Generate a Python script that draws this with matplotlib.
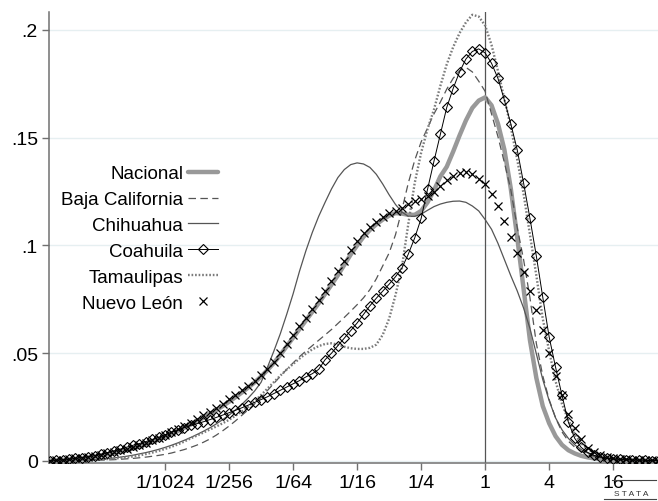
import numpy as np
import matplotlib
matplotlib.use("Agg")
import matplotlib.pyplot as plt
from matplotlib.lines import Line2D

plt.rcParams['font.family'] = ['Liberation Sans', 'DejaVu Sans']

# evaluation grid (log2 of the ratio), one point per marker
log2_x = np.linspace(-13.6, 5.4, 96)

nacional = [
    .0002, .0003, .0005, .0007, .0010, .0013, .0017, .0021, .0026, .0031,
    .0037, .0043, .0050, .0058, .0067, .0077, .0088, .0100, .0112, .0125,
    .0139, .0154, .0169, .0185, .0201, .0218, .0236, .0255, .0275, .0296,
    .0318, .0341, .0365, .0392, .0422, .0455, .0492, .0532, .0572, .0612,
    .0652, .0692, .0732, .0775, .0818, .0862, .0910, .0958, .1000, .1040,
    .1072, .1098, .1120, .1138, .1150, .1148, .1142, .1142, .1160, .1200,
    .1255, .1320, .1365, .1435, .1510, .1580, .1638, .1672, .1687, .1650,
    .1565, .1445, .1265, .1040, .0800, .0560, .0385, .0255, .0175, .0115,
    .0075, .0050, .0035, .0024, .0017, .0012, .0009, .0007, .0005, .0004,
    .0003, .0003, .0002, .0002, .0001, .0001]

baja_california = [
    .0000, .0000, .0001, .0001, .0001, .0002, .0002, .0003, .0004, .0005,
    .0006, .0008, .0010, .0012, .0015, .0018, .0022, .0026, .0031, .0037,
    .0045, .0053, .0063, .0074, .0087, .0102, .0120, .0140, .0162, .0186,
    .0212, .0238, .0265, .0295, .0327, .0360, .0393, .0425, .0455, .0484,
    .0510, .0535, .0560, .0585, .0610, .0638, .0666, .0695, .0725, .0757,
    .0795, .0845, .0905, .0965, .1050, .1165, .1290, .1395, .1480, .1545,
    .1610, .1665, .1725, .1775, .1810, .1826, .1805, .1762, .1715, .1610,
    .1505, .1385, .1260, .1085, .0935, .0757, .0545, .0395, .0285, .0200,
    .0135, .0092, .0064, .0045, .0031, .0022, .0016, .0011, .0008, .0006,
    .0004, .0003, .0002, .0002, .0001, .0001]

chihuahua = [
    .0000, .0001, .0001, .0002, .0003, .0004, .0005, .0007, .0009, .0011,
    .0014, .0018, .0022, .0027, .0033, .0039, .0046, .0054, .0063, .0073,
    .0084, .0096, .0109, .0123, .0138, .0154, .0172, .0192, .0213, .0237,
    .0263, .0292, .0325, .0365, .0435, .0510, .0590, .0680, .0775, .0880,
    .0975, .1060, .1135, .1200, .1262, .1315, .1352, .1375, .1383, .1378,
    .1362, .1330, .1285, .1235, .1190, .1155, .1135, .1135, .1145, .1163,
    .1180, .1192, .1200, .1205, .1206, .1200, .1183, .1160, .1120, .1075,
    .1010, .0935, .0860, .0790, .0710, .0615, .0497, .0378, .0280, .0200,
    .0145, .0105, .0075, .0053, .0037, .0026, .0018, .0013, .0009, .0007,
    .0005, .0004, .0003, .0002, .0001, .0001]

coahuila = [
    .0002, .0004, .0006, .0009, .0012, .0016, .0020, .0025, .0031, .0039,
    .0047, .0055, .0064, .0073, .0081, .0090, .0100, .0110, .0122, .0133,
    .0145, .0155, .0165, .0173, .0182, .0192, .0202, .0213, .0224, .0235,
    .0247, .0259, .0272, .0285, .0298, .0313, .0328, .0343, .0358, .0373,
    .0390, .0405, .0425, .0470, .0500, .0535, .0570, .0605, .0640, .0680,
    .0720, .0755, .0788, .0820, .0855, .0895, .0960, .1035, .1125, .1260,
    .1390, .1515, .1640, .1728, .1805, .1865, .1900, .1912, .1893, .1845,
    .1775, .1675, .1565, .1445, .1290, .1125, .0950, .0760, .0575, .0435,
    .0305, .0180, .0105, .0063, .0040, .0026, .0018, .0013, .0010, .0008,
    .0006, .0005, .0004, .0003, .0002, .0002]

tamaulipas = [
    .0000, .0001, .0001, .0002, .0002, .0003, .0004, .0005, .0007, .0009,
    .0011, .0014, .0017, .0021, .0026, .0032, .0039, .0047, .0056, .0066,
    .0077, .0090, .0105, .0118, .0132, .0146, .0160, .0175, .0191, .0210,
    .0230, .0252, .0278, .0306, .0336, .0366, .0396, .0424, .0450, .0475,
    .0498, .0518, .0533, .0543, .0546, .0540, .0530, .0523, .0520, .0520,
    .0525, .0540, .0585, .0660, .0770, .0900, .1100, .1290, .1430, .1540,
    .1630, .1740, .1840, .1920, .1985, .2035, .2070, .2062, .2020, .1930,
    .1810, .1680, .1550, .1400, .1240, .1050, .0860, .0660, .0510, .0370,
    .0265, .0190, .0125, .0082, .0056, .0038, .0028, .0020, .0015, .0011,
    .0008, .0006, .0004, .0003, .0002, .0002]

nuevo_leon = [
    .0002, .0004, .0006, .0009, .0012, .0016, .0020, .0025, .0030, .0036,
    .0042, .0049, .0057, .0066, .0075, .0085, .0096, .0108, .0120, .0133,
    .0147, .0162, .0178, .0195, .0212, .0229, .0247, .0266, .0286, .0307,
    .0329, .0350, .0372, .0398, .0428, .0460, .0500, .0545, .0585, .0625,
    .0665, .0705, .0745, .0790, .0835, .0880, .0930, .0980, .1020, .1060,
    .1085, .1110, .1130, .1150, .1162, .1175, .1190, .1205, .1215, .1230,
    .1250, .1278, .1305, .1322, .1335, .1340, .1332, .1310, .1285, .1240,
    .1185, .1115, .1040, .0965, .0878, .0790, .0700, .0610, .0500, .0395,
    .0305, .0220, .0152, .0100, .0062, .0040, .0027, .0019, .0014, .0010,
    .0008, .0006, .0005, .0004, .0003, .0002]

tick_pos = [2.0**-10, 2.0**-8, 2.0**-6, 2.0**-4, 2.0**-2, 1, 4, 16]
tick_labels = ['1/1024', '1/256', '1/64', '1/16', '1/4', '1', '4', '16']
ytick_pos = [0, .05, .1, .15, .2]
ytick_labels = ['0', '.05', '.1', '.15', '.2']

x = 2.0 ** log2_x

fig = plt.figure(figsize=(6.58, 5.02), dpi=100)
ax = fig.add_axes([49 / 658, 1 - 464 / 502, 1 - 49 / 658, (464 - 13) / 502])

ax.plot(x, nacional, color='#999999', lw=3.2, solid_capstyle='round', label='Nacional', zorder=2)
ax.plot(x, baja_california, color='#555555', lw=0.9, ls=(0, (6, 3.5)), label='Baja California', zorder=3)
ax.plot(x, chihuahua, color='#555555', lw=0.9, label='Chihuahua', zorder=3)
ax.plot(x, coahuila, color='black', lw=0.7, marker='D', ms=5.2, mfc='none', mec='black',
        mew=0.8, label='Coahuila', zorder=4)
ax.plot(x, tamaulipas, color='#7a7a7a', lw=1.7, ls=(0, (0.7, 0.8)), label='Tamaulipas', zorder=3)
ax.plot(x, nuevo_leon, ls='none', marker='x', ms=6, mec='black', mew=0.9, label='Nuevo León', zorder=5)

ax.axvline(1, color='#555555', lw=0.9, zorder=1.5)

ax.set_xscale('log', base=2)
ax.set_xlim(2.0 ** -13.625, 2.0 ** 5.4)
ax.set_ylim(-0.00093, 0.2083)
ax.set_xticks(tick_pos)
ax.set_xticklabels(tick_labels)
ax.xaxis.set_minor_locator(matplotlib.ticker.NullLocator())
ax.set_yticks(ytick_pos)
ax.set_yticklabels(ytick_labels)

ax.yaxis.grid(True, color='#e6eff1', lw=1)
ax.set_axisbelow(True)
for s in ['top', 'right']:
    ax.spines[s].set_visible(False)
for s in ['left', 'bottom']:
    ax.spines[s].set_color('#707070')
    ax.spines[s].set_linewidth(1.1)
ax.tick_params(axis='both', direction='out', length=5, width=1, color='#707070',
               labelsize=14, pad=3)

ax.legend(loc='upper right', bbox_to_anchor=(218 / 658, 1 - 166 / 502),
          bbox_transform=fig.transFigure, frameon=False, markerfirst=False,
          fontsize=13.5, handlelength=1.6, handletextpad=0.25, labelspacing=0.47,
          borderpad=0, borderaxespad=0)

# stata logo
fig.text(631 / 658, 1 - 495 / 502, 'S T A T A', fontsize=6, ha='center', va='center',
         color='#333333')
fig.add_artist(Line2D([612 / 658, 656 / 658], [1 - 481 / 502] * 2, color='#444444', lw=0.8))
fig.add_artist(Line2D([604 / 658, 656 / 658], [1 - 500 / 502] * 2, color='#444444', lw=0.8))

fig.savefig('out.png', dpi=100)
